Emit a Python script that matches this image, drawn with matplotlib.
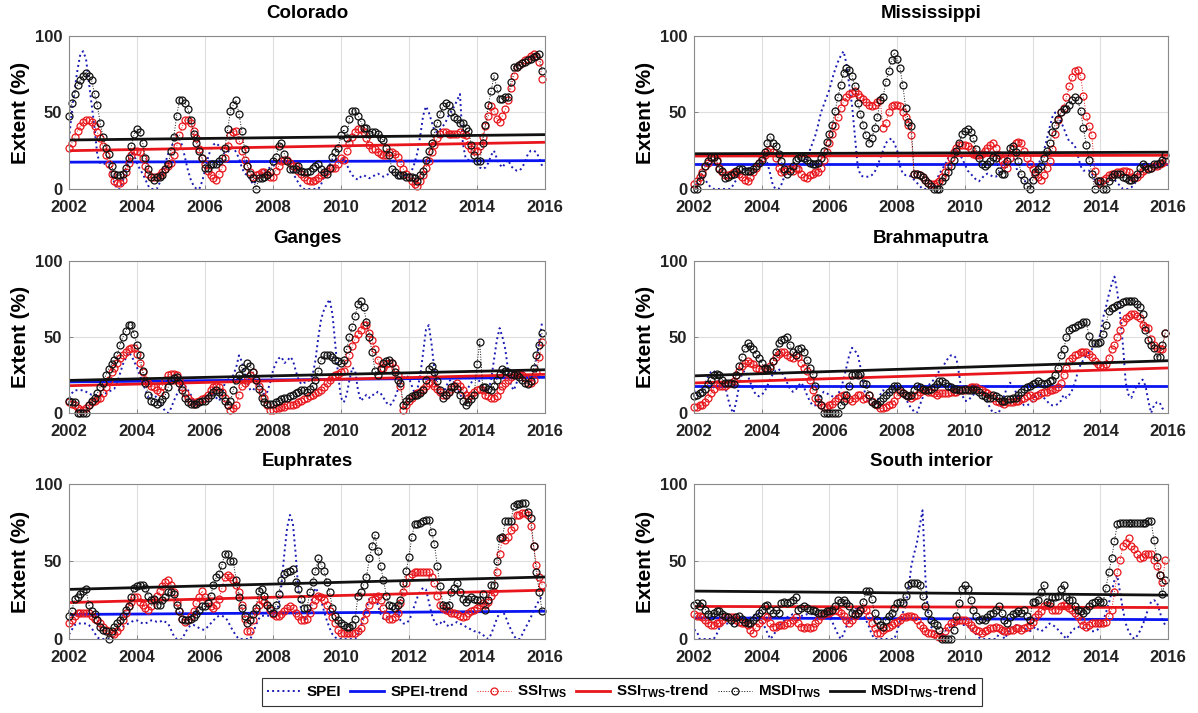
import numpy as np
import matplotlib.pyplot as plt

plt.rcParams['font.family'] = ['Liberation Sans', 'DejaVu Sans']
plt.rcParams['font.weight'] = 'bold'
plt.rcParams['mathtext.fontset'] = 'custom'
plt.rcParams['mathtext.bf'] = 'Liberation Sans:bold'
plt.rcParams['mathtext.rm'] = 'Liberation Sans:bold'
plt.rcParams['mathtext.default'] = 'bf'

# monthly drought extent (%), Jan 2002 - Dec 2015, one row per year
colorado_spei = [
    33, 50, 65, 78, 88, 90, 85, 70, 55, 40, 22, 17,
    17, 16, 14, 10, 4, 0, 0, 5, 12, 18, 24, 22,
    17, 13, 10, 6, 2, 0, 0, 0, 4, 10, 17, 23,
    27, 31, 35, 33, 28, 20, 12, 6, 2, 0, 0, 5,
    12, 20, 26, 29, 30, 28, 25, 23, 24, 26, 27, 24,
    20, 14, 10, 9, 6, 3, 5, 8, 10, 12, 13, 14,
    15, 16, 17, 18, 18, 17, 15, 11, 7, 4, 1, 0,
    0, 0, 0, 0, 0, 3, 8, 13, 16, 19, 20, 19,
    17, 20, 16, 12, 9, 7, 6, 8, 9, 8, 7, 8,
    9, 10, 9, 8, 9, 10, 11, 10, 8, 8, 9, 9,
    9, 12, 17, 24, 35, 48, 54, 50, 44, 38, 37, 39,
    41, 44, 48, 51, 54, 58, 62, 30, 20, 19, 18, 18,
    17, 14, 13, 14, 17, 22, 25, 20, 16, 14, 17, 19,
    15, 13, 12, 12, 14, 18, 23, 25, 25, 24, 20, 15]
colorado_ssi = [
    27, 30, 34, 38, 41, 44, 45, 45, 44, 41, 37, 33,
    28, 22, 16, 10, 5, 4, 4, 6, 11, 17, 22, 25,
    25, 24, 20, 15, 10, 8, 8, 8, 9, 11, 13, 15,
    17, 22, 28, 35, 41, 45, 45, 43, 38, 33, 26, 20,
    16, 12, 9, 7, 6, 10, 14, 20, 28, 35, 37, 38,
    32, 25, 19, 15, 11, 8, 9, 10, 11, 11, 10, 8,
    8, 12, 15, 18, 19, 19, 17, 15, 15, 12, 10, 8,
    6, 5, 5, 6, 7, 9, 10, 12, 14, 14, 14, 16,
    20, 19, 25, 30, 34, 37, 39, 39, 37, 33, 29, 26,
    26, 24, 23, 22, 22, 24, 24, 23, 21, 17, 13, 10,
    8, 5, 3, 2, 5, 9, 14, 18, 24, 29, 33, 36,
    37, 37, 36, 36, 36, 36, 37, 36, 35, 29, 26, 25,
    25, 28, 34, 41, 48, 54, 51, 46, 44, 48, 52, 58,
    66, 74, 80, 81, 82, 84, 85, 87, 88, 87, 83, 72]
colorado_msdi = [
    48, 56, 62, 68, 71, 74, 76, 74, 71, 62, 55, 43,
    34, 27, 23, 15, 10, 9, 9, 10, 14, 20, 28, 36,
    39, 37, 30, 20, 13, 8, 6, 8, 8, 9, 13, 16,
    25, 34, 48, 58, 58, 56, 52, 45, 36, 30, 25, 20,
    14, 14, 16, 16, 16, 18, 20, 27, 39, 51, 55, 58,
    49, 38, 26, 15, 10, 7, 0, 7, 7, 8, 9, 11,
    18, 21, 28, 30, 23, 18, 13, 13, 13, 15, 12, 11,
    11, 12, 14, 15, 16, 13, 11, 10, 14, 21, 24, 27,
    35, 39, 33, 46, 51, 51, 48, 44, 40, 40, 36, 37,
    37, 36, 33, 32, 27, 22, 13, 11, 9, 9, 9, 8,
    8, 8, 7, 5, 9, 12, 19, 25, 30, 37, 43, 49,
    54, 56, 55, 50, 47, 46, 43, 43, 40, 38, 29, 22,
    18, 18, 30, 42, 55, 64, 74, 66, 59, 59, 60, 60,
    70, 80, 80, 81, 82, 83, 84, 85, 86, 87, 88, 77]
colorado_trend = [(17.5, 18.5), (25.0, 30.5), (32.0, 35.5)]

mississippi_spei = [
    0, 3, 6, 8, 6, 3, 1, 0, 0, 0, 0, 0,
    0, 0, 3, 6, 9, 12, 13, 14, 13, 13, 14, 16,
    18, 20, 17, 10, 2, 0, 0, 3, 8, 12, 15, 16,
    15, 14, 15, 17, 20, 25, 30, 35, 42, 50, 55, 60,
    65, 72, 78, 83, 87, 90, 82, 68, 55, 35, 15, 9,
    8, 8, 8, 9, 11, 15, 20, 25, 30, 32, 33, 30,
    25, 15, 10, 9, 9, 8, 6, 4, 2, 0, 0, 0,
    0, 2, 6, 10, 13, 16, 20, 23, 25, 25, 23, 20,
    16, 12, 10, 8, 6, 5, 7, 9, 10, 9, 8, 8,
    10, 14, 18, 21, 24, 22, 15, 10, 7, 5, 5, 6,
    9, 12, 16, 20, 25, 32, 40, 47, 50, 48, 44, 40,
    35, 31, 30, 28, 22, 15, 12, 12, 12, 10, 6, 4,
    3, 3, 4, 5, 7, 6, 4, 2, 0, 0, 0, 1,
    3, 6, 10, 12, 14, 15, 16, 15, 13, 13, 15, 17]
mississippi_ssi = [
    3, 5, 8, 11, 15, 17, 20, 21, 19, 14, 11, 9,
    9, 10, 11, 11, 10, 8, 6, 5, 8, 11, 14, 17,
    20, 22, 25, 26, 24, 20, 14, 11, 12, 13, 13, 12,
    14, 13, 10, 8, 7, 9, 10, 11, 11, 14, 19, 24,
    30, 36, 41, 47, 53, 57, 60, 62, 63, 64, 62, 60,
    59, 57, 55, 54, 55, 57, 58, 40, 43, 50, 54, 55,
    55, 54, 50, 47, 42, 35, 10, 10, 9, 8, 6, 4,
    3, 3, 4, 5, 8, 11, 15, 20, 24, 27, 29, 29,
    29, 28, 26, 23, 22, 22, 23, 25, 27, 29, 30, 27,
    22, 19, 16, 14, 20, 26, 30, 31, 30, 25, 20, 16,
    13, 10, 8, 6, 9, 14, 18, 26, 36, 45, 50, 53,
    60, 67, 73, 77, 78, 74, 61, 48, 41, 35, 12, 5,
    4, 6, 7, 9, 10, 10, 11, 11, 12, 12, 11, 8,
    7, 8, 10, 12, 13, 14, 14, 15, 15, 16, 17, 18]
mississippi_msdi = [
    0, 0, 5, 10, 15, 18, 21, 21, 18, 13, 12, 7,
    8, 9, 10, 12, 13, 13, 12, 12, 12, 13, 15, 17,
    19, 24, 30, 34, 30, 28, 23, 18, 13, 10, 12, 15,
    19, 20, 21, 20, 19, 17, 16, 16, 17, 20, 25, 31,
    36, 42, 51, 60, 68, 76, 79, 78, 74, 67, 56, 49,
    42, 35, 30, 33, 40, 47, 58, 60, 70, 77, 84, 89,
    85, 79, 68, 53, 44, 41, 10, 10, 9, 8, 6, 4,
    2, 0, 0, 0, 5, 8, 11, 15, 19, 25, 30, 36,
    38, 39, 37, 33, 26, 20, 16, 15, 16, 18, 21, 20,
    12, 10, 10, 18, 27, 28, 24, 18, 10, 6, 2, 0,
    6, 11, 13, 15, 20, 25, 30, 37, 42, 46, 50, 52,
    52, 55, 58, 60, 58, 51, 40, 29, 19, 10, 0, 5,
    5, 0, 0, 5, 8, 10, 10, 10, 8, 7, 6, 6,
    7, 10, 14, 16, 15, 13, 14, 16, 16, 17, 19, 22]
mississippi_trend = [(16.0, 16.0), (21.5, 22.0), (23.0, 24.0)]

ganges_spei = [
    10, 13, 15, 15, 15, 15, 14, 13, 12, 12, 12, 12,
    12, 13, 14, 15, 16, 20, 26, 32, 36, 40, 38, 34,
    30, 25, 20, 15, 10, 12, 12, 10, 7, 4, 1, 0,
    3, 8, 12, 16, 19, 18, 15, 12, 8, 5, 5, 7,
    10, 12, 14, 12, 10, 8, 12, 20, 24, 21, 25, 30,
    38, 34, 26, 20, 15, 15, 18, 20, 15, 12, 14, 20,
    28, 33, 36, 37, 33, 34, 37, 35, 28, 22, 19, 20,
    20, 22, 25, 35, 50, 62, 68, 72, 75, 65, 45, 25,
    10, 7, 12, 22, 30, 28, 15, 8, 10, 12, 10, 12,
    12, 14, 13, 10, 7, 5, 6, 10, 15, 20, 23, 25,
    23, 18, 13, 16, 25, 40, 55, 58, 45, 28, 16, 11,
    12, 17, 21, 22, 20, 17, 12, 10, 13, 17, 20, 23,
    25, 20, 18, 15, 15, 22, 35, 48, 56, 50, 42, 28,
    18, 15, 20, 25, 28, 25, 22, 20, 25, 35, 48, 60]
ganges_ssi = [
    7, 6, 5, 3, 2, 2, 3, 5, 7, 8, 9, 10,
    13, 17, 22, 27, 30, 33, 36, 38, 40, 42, 43, 43,
    39, 33, 27, 22, 20, 18, 17, 15, 14, 18, 22, 25,
    26, 26, 25, 22, 17, 13, 10, 8, 6, 7, 8, 9,
    10, 12, 15, 17, 18, 17, 14, 10, 5, 2, 3, 5,
    12, 18, 20, 22, 25, 27, 22, 18, 14, 10, 5, 2,
    2, 3, 3, 4, 4, 5, 5, 5, 6, 7, 8, 9,
    10, 11, 12, 13, 14, 15, 17, 20, 22, 24, 25, 26,
    27, 28, 33, 38, 44, 49, 52, 55, 58, 58, 53, 48,
    42, 35, 30, 30, 32, 33, 33, 30, 25, 18, 2, 5,
    8, 10, 12, 13, 14, 16, 18, 20, 20, 18, 16, 14,
    12, 12, 14, 16, 18, 20, 18, 15, 12, 10, 12, 14,
    15, 16, 15, 12, 11, 10, 10, 11, 15, 18, 20, 22,
    24, 25, 26, 26, 25, 23, 20, 20, 22, 27, 37, 47]
ganges_msdi = [
    8, 7, 7, 0, 0, 0, 0, 5, 8, 10, 13, 17,
    20, 25, 29, 32, 35, 38, 45, 50, 54, 58, 58, 52,
    45, 38, 28, 20, 12, 8, 7, 6, 7, 9, 12, 17,
    22, 23, 24, 20, 15, 10, 7, 6, 6, 6, 7, 8,
    8, 10, 12, 14, 15, 14, 12, 8, 5, 8, 15, 22,
    25, 30, 28, 33, 31, 27, 22, 16, 10, 7, 6, 6,
    6, 7, 8, 9, 10, 10, 11, 12, 13, 14, 15, 15,
    14, 16, 18, 22, 28, 35, 38, 38, 38, 37, 35, 34,
    33, 35, 42, 50, 57, 64, 72, 74, 70, 60, 50, 40,
    28, 25, 29, 33, 34, 35, 33, 27, 22, 20, 5, 8,
    10, 11, 12, 12, 13, 15, 22, 29, 31, 27, 21, 15,
    10, 12, 14, 17, 18, 16, 12, 8, 5, 7, 9, 12,
    32, 47, 17, 17, 16, 15, 18, 22, 26, 29, 28, 27,
    26, 25, 25, 24, 22, 20, 19, 21, 30, 38, 45, 53]
ganges_trend = [(20.5, 23.5), (18.0, 25.5), (21.5, 28.5)]

brahmaputra_spei = [
    15, 12, 10, 14, 20, 24, 27, 28, 25, 20, 17, 18,
    10, 3, 0, 8, 18, 26, 28, 25, 20, 15, 12, 11,
    12, 14, 18, 22, 26, 28, 29, 27, 24, 20, 16, 14,
    15, 18, 20, 17, 12, 8, 5, 5, 8, 12, 14, 13,
    12, 11, 10, 12, 16, 22, 30, 38, 43, 41, 39, 30,
    18, 10, 7, 6, 5, 8, 12, 15, 14, 12, 14, 17,
    15, 17, 14, 10, 6, 3, 1, 0, 5, 10, 15, 18,
    20, 22, 25, 28, 30, 33, 36, 38, 38, 36, 25, 12,
    8, 8, 10, 12, 15, 17, 15, 11, 7, 3, 0, 0,
    0, 5, 12, 17, 20, 18, 14, 10, 7, 5, 5, 6,
    8, 12, 14, 12, 10, 8, 6, 5, 5, 6, 8, 12,
    10, 12, 15, 20, 27, 32, 35, 38, 40, 42, 45, 47,
    52, 63, 70, 78, 85, 90, 80, 65, 45, 20, 12, 10,
    15, 18, 20, 22, 18, 8, 0, 5, 7, 7, 3, 2]
brahmaputra_ssi = [
    4, 4, 5, 5, 7, 10, 13, 16, 19, 18, 18, 18,
    19, 20, 21, 25, 28, 31, 33, 34, 33, 32, 30, 29,
    29, 30, 29, 31, 34, 37, 39, 40, 40, 38, 37, 36,
    38, 37, 33, 30, 28, 22, 15, 10, 7, 5, 4, 4,
    5, 6, 8, 10, 11, 12, 10, 9, 8, 10, 12, 12,
    9, 10, 12, 8, 6, 5, 3, 3, 4, 5, 6, 8,
    12, 14, 13, 12, 11, 10, 11, 12, 14, 15, 15, 14,
    14, 13, 12, 13, 13, 13, 13, 14, 14, 14, 15, 15,
    15, 16, 17, 17, 17, 16, 15, 14, 13, 12, 10, 8,
    7, 7, 6, 7, 7, 7, 8, 8, 9, 10, 11, 12,
    10, 11, 12, 13, 14, 14, 15, 15, 16, 17, 20, 25,
    30, 34, 36, 38, 39, 40, 40, 40, 39, 37, 34, 32,
    31, 31, 32, 36, 42, 45, 50, 55, 60, 63, 64, 65,
    65, 64, 63, 58, 57, 56, 49, 45, 43, 42, 42, 53]
brahmaputra_msdi = [
    11, 12, 13, 14, 16, 19, 22, 25, 26, 25, 22, 20,
    20, 20, 19, 25, 31, 37, 43, 46, 44, 42, 39, 36,
    33, 30, 29, 30, 34, 40, 46, 48, 49, 50, 45, 40,
    38, 42, 43, 40, 35, 30, 26, 18, 10, 5, 0, 0,
    0, 0, 0, 0, 5, 8, 12, 18, 25, 26, 25, 26,
    20, 19, 12, 7, 6, 6, 8, 10, 12, 14, 16, 18,
    18, 15, 13, 12, 11, 12, 15, 18, 17, 16, 15, 15,
    16, 17, 19, 21, 21, 20, 18, 17, 16, 16, 15, 15,
    16, 15, 15, 16, 15, 14, 12, 11, 10, 10, 12, 11,
    10, 8, 8, 9, 9, 10, 10, 12, 14, 16, 17, 18,
    19, 20, 21, 20, 19, 20, 21, 22, 25, 30, 38, 42,
    50, 55, 56, 57, 58, 59, 60, 60, 51, 46, 46, 46,
    47, 52, 58, 67, 69, 70, 71, 72, 73, 74, 74, 74,
    74, 72, 70, 65, 55, 48, 45, 43, 37, 37, 45, 53]
brahmaputra_trend = [(17.5, 17.5), (19.8, 29.7), (24.5, 34.5)]

euphrates_spei = [
    3, 6, 9, 10, 10, 10, 10, 9, 7, 4, 1, 0,
    0, 0, 0, 0, 3, 5, 7, 8, 9, 10, 11, 12,
    12, 11, 10, 10, 11, 12, 12, 11, 11, 12, 11, 10,
    6, 2, 0, 0, 0, 4, 7, 9, 9, 8, 7, 6,
    6, 8, 10, 12, 14, 15, 15, 14, 12, 8, 5, 2,
    0, 0, 0, 0, 0, 4, 9, 13, 15, 15, 15, 15,
    15, 17, 22, 35, 55, 72, 80, 75, 55, 30, 18, 12,
    14, 20, 28, 33, 30, 25, 18, 12, 7, 3, 1, 0,
    0, 0, 0, 0, 0, 0, 3, 8, 15, 20, 26, 30,
    28, 22, 16, 13, 13, 16, 20, 22, 18, 12, 10, 10,
    12, 16, 22, 27, 31, 33, 32, 24, 16, 11, 9, 10,
    12, 10, 8, 9, 10, 11, 10, 9, 8, 7, 6, 5,
    5, 4, 3, 1, 0, 3, 8, 13, 17, 18, 15, 10,
    6, 2, 0, 0, 3, 7, 10, 14, 18, 22, 25, 28]
euphrates_ssi = [
    10, 12, 15, 17, 17, 17, 17, 17, 15, 13, 12, 10,
    8, 6, 5, 4, 3, 5, 8, 12, 17, 21, 24, 27,
    27, 24, 22, 20, 19, 21, 25, 28, 31, 34, 37, 38,
    35, 30, 24, 18, 13, 11, 12, 15, 18, 23, 27, 31,
    27, 24, 21, 20, 22, 26, 33, 40, 41, 40, 38, 35,
    30, 22, 13, 5, 5, 12, 18, 22, 25, 24, 22, 19,
    16, 15, 15, 16, 18, 20, 21, 20, 17, 15, 12, 12,
    13, 17, 22, 25, 28, 27, 25, 22, 18, 14, 10, 6,
    4, 4, 4, 4, 4, 4, 5, 7, 12, 17, 22, 25,
    26, 28, 25, 20, 15, 13, 13, 14, 17, 23, 30, 36,
    40, 42, 43, 43, 43, 43, 43, 43, 40, 36, 28, 22,
    20, 19, 18, 17, 17, 16, 15, 14, 15, 17, 18, 19,
    20, 22, 23, 22, 24, 28, 30, 43, 55, 65, 64, 66,
    70, 72, 80, 80, 81, 81, 80, 73, 60, 48, 40, 35]
euphrates_msdi = [
    15, 18, 26, 27, 29, 31, 32, 22, 18, 16, 12, 8,
    6, 5, 0, 5, 8, 10, 12, 15, 19, 21, 27, 33,
    34, 35, 35, 33, 28, 25, 26, 22, 22, 25, 27, 30,
    30, 29, 22, 18, 13, 12, 12, 13, 14, 16, 19, 21,
    21, 23, 28, 35, 40, 42, 48, 55, 55, 50, 50, 38,
    27, 20, 15, 10, 12, 16, 20, 31, 32, 28, 22, 20,
    17, 22, 29, 38, 42, 43, 44, 45, 37, 32, 26, 20,
    20, 30, 37, 44, 52, 48, 44, 37, 30, 20, 15, 12,
    10, 9, 8, 8, 9, 13, 28, 30, 35, 40, 52, 60,
    67, 57, 47, 38, 28, 22, 21, 20, 22, 25, 36, 44,
    53, 66, 74, 74, 75, 76, 77, 77, 69, 61, 47, 34,
    22, 21, 22, 30, 33, 36, 30, 26, 24, 26, 27, 26,
    25, 25, 29, 19, 25, 35, 35, 50, 65, 66, 76, 76,
    76, 86, 87, 87, 88, 88, 82, 78, 60, 43, 30, 18]
euphrates_trend = [(15.8, 17.9), (23.5, 31.5), (32.0, 40.0)]

south_spei = [
    6, 5, 0, 0, 0, 0, 0, 0, 3, 7, 9, 10,
    10, 10, 9, 9, 10, 10, 11, 12, 14, 15, 16, 17,
    12, 8, 4, 0, 2, 5, 8, 10, 12, 14, 15, 16,
    16, 16, 15, 15, 16, 16, 16, 16, 15, 15, 15, 14,
    14, 11, 7, 3, 0, 3, 8, 12, 16, 19, 21, 18,
    16, 12, 8, 3, 0, 0, 0, 0, 0, 0, 0, 0,
    5, 12, 17, 21, 32, 47, 55, 62, 73, 83, 40, 15,
    8, 5, 4, 3, 2, 5, 7, 8, 9, 10, 10, 9,
    9, 8, 7, 5, 3, 1, 0, 0, 0, 0, 0, 0,
    3, 4, 0, 3, 6, 8, 9, 9, 8, 7, 6, 5,
    6, 8, 6, 5, 6, 8, 10, 9, 8, 6, 4, 2,
    0, 3, 5, 7, 8, 7, 7, 6, 6, 5, 5, 6,
    8, 12, 17, 23, 30, 38, 41, 30, 19, 10, 5, 2,
    0, 2, 5, 9, 14, 20, 24, 25, 24, 18, 12, 9]
south_ssi = [
    16, 15, 15, 14, 12, 10, 9, 9, 10, 10, 12, 14,
    14, 14, 14, 12, 11, 10, 10, 9, 6, 4, 8, 10,
    12, 15, 14, 10, 8, 8, 9, 9, 9, 10, 10, 12,
    14, 10, 8, 7, 8, 7, 8, 10, 12, 15, 16, 17,
    17, 18, 19, 18, 17, 15, 12, 10, 12, 15, 17, 19,
    20, 19, 15, 10, 7, 4, 4, 6, 7, 8, 9, 10,
    11, 12, 14, 14, 15, 15, 14, 12, 9, 7, 5, 4,
    4, 3, 2, 1, 1, 5, 8, 10, 11, 12, 12, 12,
    12, 11, 9, 7, 6, 5, 4, 5, 6, 7, 7, 8,
    7, 6, 5, 5, 6, 6, 7, 7, 6, 7, 8, 9,
    11, 14, 16, 18, 21, 22, 21, 19, 19, 19, 21, 22,
    21, 20, 19, 17, 15, 12, 9, 8, 9, 10, 10, 10,
    10, 10, 11, 15, 19, 30, 43, 51, 60, 62, 65, 60,
    58, 55, 52, 53, 55, 55, 55, 51, 47, 41, 37, 51]
south_msdi = [
    22, 23, 21, 23, 19, 16, 15, 17, 18, 18, 16, 15,
    14, 12, 10, 14, 15, 13, 11, 10, 10, 12, 14, 17,
    19, 21, 22, 19, 17, 19, 17, 23, 24, 23, 24, 25,
    27, 19, 20, 21, 20, 19, 19, 18, 17, 17, 17, 18,
    18, 19, 21, 25, 24, 25, 23, 21, 17, 16, 17, 19,
    24, 31, 31, 26, 17, 12, 9, 8, 12, 15, 17, 20,
    23, 24, 23, 28, 35, 36, 36, 36, 35, 28, 21, 17,
    12, 10, 9, 6, 0, 0, 0, 0, 6, 15, 23, 32,
    35, 32, 25, 19, 15, 12, 13, 12, 14, 16, 17, 19,
    21, 17, 12, 10, 14, 16, 17, 18, 17, 19, 15, 12,
    24, 24, 25, 30, 35, 24, 23, 27, 27, 28, 32, 35,
    27, 25, 25, 21, 19, 18, 17, 19, 21, 23, 24, 25,
    24, 24, 33, 43, 52, 63, 74, 75, 75, 75, 75, 75,
    75, 75, 75, 75, 75, 76, 76, 64, 53, 41, 29, 38]
south_trend = [(13.6, 12.5), (21.0, 20.3), (30.9, 28.3)]

panels = [
    ('Colorado', colorado_spei, colorado_ssi, colorado_msdi, colorado_trend),
    ('Mississippi', mississippi_spei, mississippi_ssi, mississippi_msdi, mississippi_trend),
    ('Ganges', ganges_spei, ganges_ssi, ganges_msdi, ganges_trend),
    ('Brahmaputra', brahmaputra_spei, brahmaputra_ssi, brahmaputra_msdi, brahmaputra_trend),
    ('Euphrates', euphrates_spei, euphrates_ssi, euphrates_msdi, euphrates_trend),
    ('South interior', south_spei, south_ssi, south_msdi, south_trend),
]

# axes boxes in figure fractions
lefts = [0.0576, 0.5793]
widths = [0.3973, 0.3957]
bottoms = [0.735, 0.4208, 0.1038]
heights = [0.2146, 0.2125, 0.2174]

blue_dot = '#1a1ab4'
blue = '#0a14f0'
red = '#e8161c'
black = '#111111'

fig = plt.figure(figsize=(11.98, 7.13), dpi=100)

for i, (name, spei, ssi, msdi, trend) in enumerate(panels):
    row, col = divmod(i, 2)
    ax = fig.add_axes([lefts[col], bottoms[row], widths[col], heights[row]])
    t = 2002 + np.arange(len(spei)) / 12
    t_ssi = 2002 + np.arange(len(ssi)) / 12
    t_msdi = 2002 + np.arange(len(msdi)) / 12
    ends = [2002, 2016]

    ax.plot(t, spei, ':', color=blue_dot, lw=1.4, label='SPEI')
    ax.plot(ends, trend[0], '-', color=blue, lw=2, label='SPEI-trend')
    ax.plot(t_ssi, ssi, ':', color=red, lw=0.7, marker='o', ms=5,
            mfc='none', mec=red, mew=0.9, clip_on=False,
            label=r'SSI$_{TWS}$')
    ax.plot(ends, trend[1], '-', color=red, lw=2, label=r'SSI$_{TWS}$-trend')
    ax.plot(t_msdi, msdi, ':', color=black, lw=0.7, marker='o', ms=5,
            mfc='none', mec=black, mew=0.9, clip_on=False,
            label=r'MSDI$_{TWS}$')
    ax.plot(ends, trend[2], '-', color=black, lw=2, label=r'MSDI$_{TWS}$-trend')

    ax.set_xlim(2002, 2016)
    ax.set_ylim(0, 100)
    ax.set_xticks(range(2002, 2017, 2))
    ax.set_yticks([0, 50, 100])
    ax.grid(True, color='#dedede', lw=0.8)
    ax.set_axisbelow(True)
    ax.tick_params(direction='in', length=3, width=0.6, color='#777777',
                   labelsize=12, labelcolor='#222222')
    ax.tick_params(axis='x', pad=8)
    ax.tick_params(axis='y', pad=5)
    for s in ax.spines.values():
        s.set_color('#8a8a8a')
        s.set_linewidth(0.8)
    ax.set_title(name, fontsize=13.5, fontweight='bold', pad=13)
    ax.set_ylabel('Extent (%)', fontsize=15, fontweight='bold', labelpad=3)

handles, labels = ax.get_legend_handles_labels()
leg = fig.legend(handles, labels, loc='center', bbox_to_anchor=(0.519, 0.03),
                 ncol=6, fontsize=11, frameon=True, fancybox=False,
                 edgecolor='#333333', framealpha=1, handlelength=2.2,
                 handletextpad=0.4, columnspacing=0.6, borderpad=0.35)
leg.get_frame().set_linewidth(0.8)

fig.savefig('out.png', dpi=100)
